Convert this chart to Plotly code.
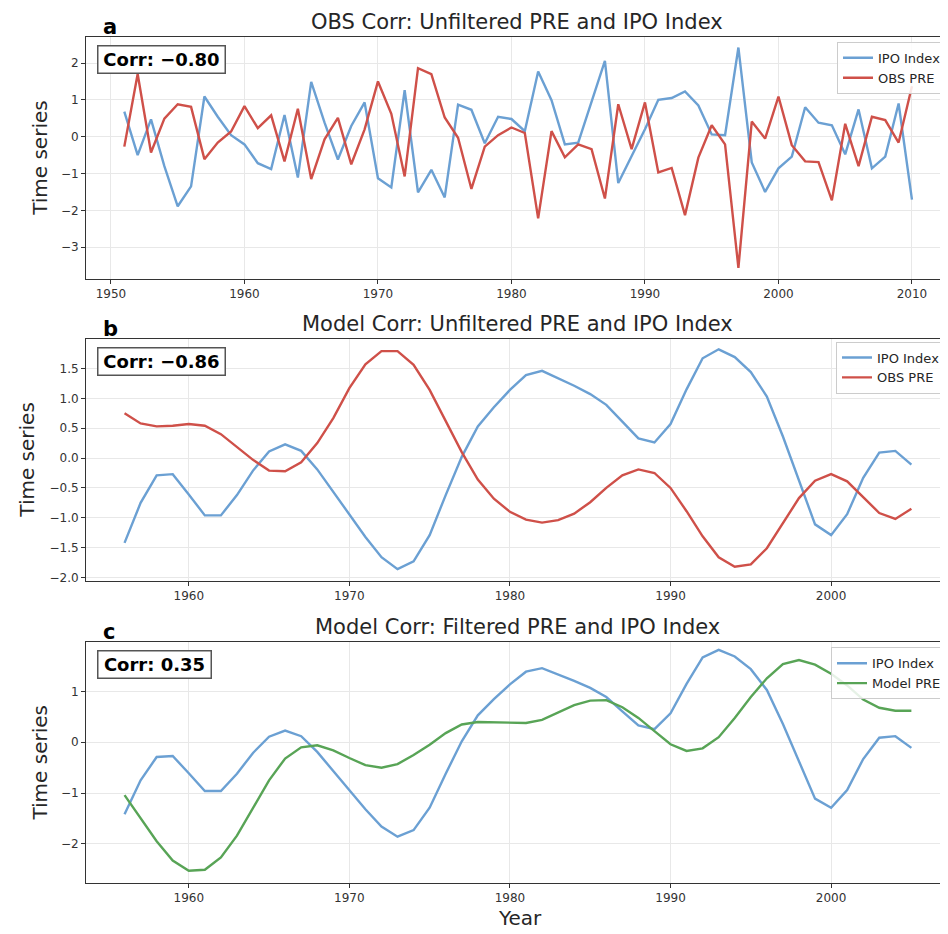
import plotly.graph_objects as go

# ---------------- data ----------------
years_a = list(range(1951, 2011))
ipo_a = [0.68, -0.50, 0.47, -0.80, -1.89, -1.35, 1.09, 0.54, 0.04, -0.21,
         -0.72, -0.88, 0.59, -1.11, 1.49, 0.38, -0.62, 0.29, 0.93, -1.13,
         -1.38, 1.26, -1.51, -0.90, -1.65, 0.87, 0.73, -0.18, 0.54, 0.48,
         0.15, 1.77, 0.99, -0.21, -0.16, 0.95, 2.06, -1.26, -0.52, 0.20,
         1.00, 1.05, 1.23, 0.85, 0.06, 0.04, 2.42, -0.70, -1.50, -0.86,
         -0.54, 0.80, 0.38, 0.31, -0.48, 0.74, -0.86, -0.54, 0.90, -1.71]
obs_pre_a = [-0.27, 1.70, -0.43, 0.49, 0.88, 0.81, -0.61, -0.16, 0.14, 0.83,
             0.23, 0.58, -0.67, 0.76, -1.15, -0.07, 0.51, -0.75, 0.20, 1.50,
             0.62, -1.08, 1.86, 1.70, 0.52, -0.03, -1.42, -0.27, 0.04, 0.25,
             0.10, -2.22, 0.15, -0.56, -0.21, -0.34, -1.68, 0.88, -0.34, 0.93,
             -0.97, -0.85, -2.13, -0.57, 0.31, -0.21, -3.56, 0.41, -0.05, 1.09,
             -0.23, -0.67, -0.69, -1.73, 0.35, -0.80, 0.54, 0.45, -0.16, 1.37]

years_b = list(range(1956, 2006))
ipo_model = [-1.42, -0.75, -0.29, -0.27, -0.61, -0.96, -0.96, -0.62, -0.21, 0.11,
             0.23, 0.12, -0.19, -0.57, -0.94, -1.32, -1.66, -1.86, -1.73, -1.29,
             -0.62, 0.02, 0.53, 0.85, 1.14, 1.39, 1.46, 1.34, 1.21, 1.07,
             0.89, 0.61, 0.33, 0.26, 0.57, 1.15, 1.67, 1.82, 1.69, 1.44,
             1.03, 0.36, -0.39, -1.11, -1.29, -0.94, -0.33, 0.09, 0.12, -0.11]
obs_pre_b = [0.75, 0.58, 0.53, 0.54, 0.57, 0.54, 0.40, 0.19, -0.03, -0.21,
             -0.22, -0.07, 0.25, 0.67, 1.17, 1.57, 1.79, 1.79, 1.56, 1.14,
             0.62, 0.10, -0.36, -0.68, -0.90, -1.03, -1.08, -1.04, -0.93, -0.74,
             -0.50, -0.29, -0.19, -0.25, -0.50, -0.89, -1.31, -1.66, -1.82, -1.78,
             -1.51, -1.09, -0.67, -0.38, -0.27, -0.39, -0.66, -0.92, -1.02, -0.85]
model_pre_c = [-1.04, -1.50, -1.95, -2.33, -2.53, -2.51, -2.27, -1.84, -1.30, -0.75,
               -0.32, -0.10, -0.06, -0.16, -0.31, -0.45, -0.50, -0.43, -0.25, -0.05,
               0.18, 0.35, 0.40, 0.39, 0.38, 0.38, 0.44, 0.58, 0.73, 0.82,
               0.83, 0.69, 0.48, 0.22, -0.04, -0.17, -0.12, 0.10, 0.48, 0.89,
               1.26, 1.54, 1.62, 1.53, 1.35, 1.12, 0.84, 0.68, 0.62, 0.62]

titles = ["OBS Corr: Unfiltered PRE and IPO Index",
          "Model Corr: Unfiltered PRE and IPO Index",
          "Model Corr: Filtered PRE and IPO Index"]
panel_labels = ["a", "b", "c"]
corr_texts = ["Corr: \u22120.80", "Corr: \u22120.86", "Corr: 0.35"]

# ---------------- styling ----------------
OFF = 8                      # page body margin of the browser
W, H = 948 - OFF, 934 - OFF
BLUE = "#6ba0d3"
RED = "#cf5049"
GREEN = "#58a456"
FONT = "DejaVu Sans"
TXT = "#262626"

def px_x(x):
    return (x - OFF) / W

def px_y(y):
    return 1 - (y - OFF) / H

# panel plot area (top, bottom) in screen pixels
panels = [(37, 280), (340, 583.3), (645, 886.7)]
xranges = [[1948.13, 2012.7], [1953.6, 2007.28], [1953.6, 2007.28]]
yranges = [[-3.86, 2.71], [-2.055, 2.0], [-2.77, 1.97]]
ytick_vals = [[-3, -2, -1, 0, 1, 2],
              [-2.0, -1.5, -1.0, -0.5, 0.0, 0.5, 1.0, 1.5],
              [-2, -1, 0, 1]]
ytick_fmt = ["d", ".1f", "d"]

fig = go.Figure()

series = [
    [(years_a, ipo_a, "IPO Index", BLUE), (years_a, obs_pre_a, "OBS PRE", RED)],
    [(years_b, ipo_model, "IPO Index", BLUE), (years_b, obs_pre_b, "OBS PRE", RED)],
    [(years_b, ipo_model, "IPO Index", BLUE), (years_b, model_pre_c, "Model PRE", GREEN)],
]
legend_names = ["legend", "legend2", "legend3"]

for i, sers in enumerate(series):
    ax = "" if i == 0 else str(i + 1)
    for (xs, ys, name, col) in sers:
        fig.add_trace(go.Scatter(
            x=xs, y=ys, mode="lines", name=name,
            line=dict(color=col, width=2.4),
            xaxis="x" + ax, yaxis="y" + ax,
            legend=legend_names[i], showlegend=True,
        ))

layout = dict(
    width=W, height=H,
    margin=dict(l=0, r=0, t=0, b=0),
    paper_bgcolor="white", plot_bgcolor="white",
    font=dict(family=FONT, color=TXT, size=12),
    showlegend=True,
)

axis_common = dict(
    showgrid=True, gridcolor="#e8e8e8", gridwidth=1,
    zeroline=False, showline=True, linecolor="#333333", linewidth=1,
    ticks="outside", ticklen=4, tickwidth=1, tickcolor="#333333",
    tickfont=dict(family=FONT, size=12, color="#333333"),
)

annotations = []
legend_boxes = [(42, 947), (343, 946), (650, 947)]
for i, (top, bot) in enumerate(panels):
    suf = "" if i == 0 else str(i + 1)
    layout["xaxis" + suf] = dict(
        axis_common, domain=[px_x(86), 1.0], range=xranges[i],
        anchor="y" + suf, mirror=True, tickmode="array",
        tickvals=list(range(1950, 2011, 10)),
    )
    layout["yaxis" + suf] = dict(
        axis_common, domain=[px_y(bot), px_y(top)], range=yranges[i],
        anchor="x" + suf, mirror=False, tickmode="array",
        tickvals=ytick_vals[i], tickformat=ytick_fmt[i],
    )
    # title
    annotations.append(dict(
        text=titles[i], xref="paper", yref="paper",
        x=px_x(517), y=px_y(top - 15), xanchor="center", yanchor="middle",
        showarrow=False, font=dict(family=FONT, size=21, color=TXT),
    ))
    # panel label
    annotations.append(dict(
        text="<b>%s</b>" % panel_labels[i], xref="paper", yref="paper",
        x=px_x(101), y=px_y(top - 10), xanchor="left", yanchor="middle",
        showarrow=False, font=dict(family=FONT, size=21, color="black"),
    ))
    # corr box
    annotations.append(dict(
        text="<b>%s</b>" % corr_texts[i], xref="paper", yref="paper",
        x=px_x(97), y=px_y(top + 8), xanchor="left", yanchor="top",
        showarrow=False, font=dict(family=FONT, size=18, color="black"),
        bgcolor="white", bordercolor="#555555", borderwidth=1.5, borderpad=2,
        width=(122 if i < 2 else 108), height=22,
    ))
    # y axis title
    ylab_x = 27 if i == 1 else 40
    annotations.append(dict(
        text="Time series", xref="paper", yref="paper",
        x=px_x(ylab_x), y=px_y((top + bot) / 2), xanchor="center", yanchor="middle",
        textangle=-90, showarrow=False, font=dict(family=FONT, size=20, color=TXT),
    ))
    # legend
    ltop, lright = legend_boxes[i]
    layout[legend_names[i]] = dict(
        x=px_x(lright), y=px_y(ltop), xanchor="right", yanchor="top",
        bgcolor="rgba(255,255,255,0.85)", bordercolor="#cccccc", borderwidth=1,
        font=dict(family=FONT, size=13, color=TXT),
        itemwidth=30, tracegroupgap=0,
    )

annotations.append(dict(
    text="Year", xref="paper", yref="paper",
    x=px_x(520), y=px_y(922), xanchor="center", yanchor="middle",
    showarrow=False, font=dict(family=FONT, size=20, color=TXT),
))
layout["annotations"] = annotations

fig.update_layout(**layout)
fig.write_html("out.html")
